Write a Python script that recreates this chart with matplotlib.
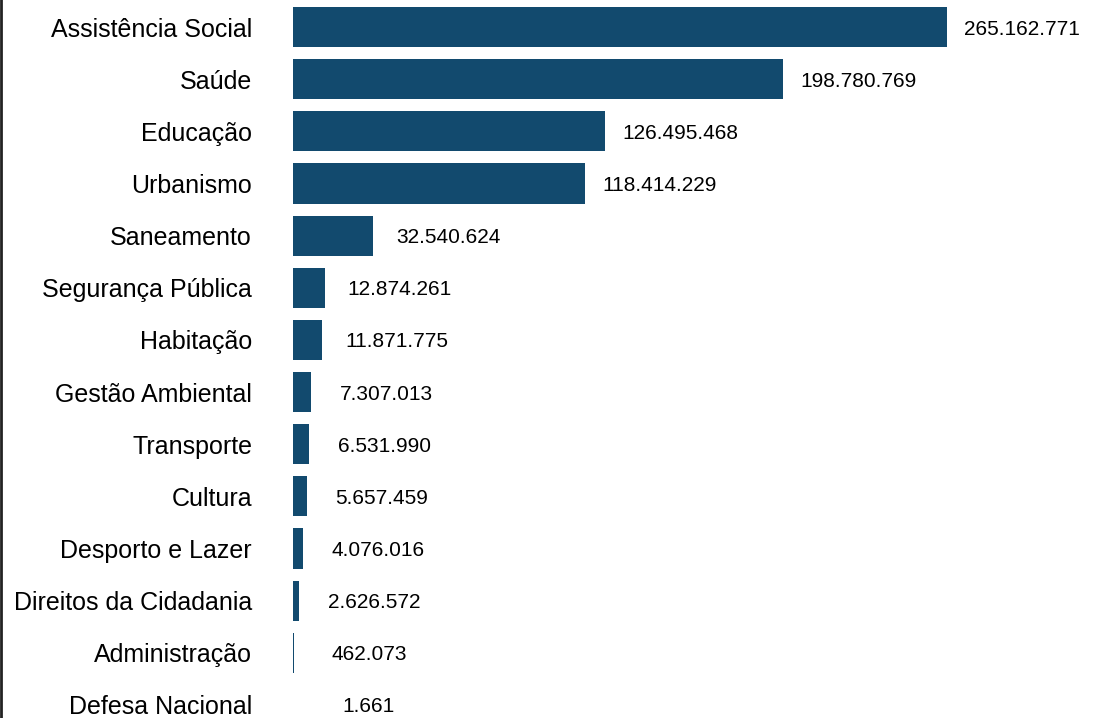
import matplotlib.pyplot as plt
from matplotlib.lines import Line2D

# Despesas por função
categorias = [
    "Assistência Social", "Saúde", "Educação", "Urbanismo", "Saneamento",
    "Segurança Pública", "Habitação", "Gestão Ambiental", "Transporte",
    "Cultura", "Desporto e Lazer", "Direitos da Cidadania", "Administração",
    "Defesa Nacional",
]
valores = [
    265162771, 198780769, 126495468, 118414229, 32540624,
    12874261, 11871775, 7307013, 6531990,
    5657459, 4076016, 2626572, 462073,
    1661,
]


def fmt_br(v):
    return f"{v:,}".replace(",", ".")


plt.rcParams["font.family"] = ["Liberation Sans", "DejaVu Sans"]

fig = plt.figure(figsize=(10.96, 7.18), dpi=100)
ax = fig.add_axes([293 / 1096, 0, 1 - 293 / 1096, 1])

pos = list(range(len(categorias)))
ax.barh(pos, valores, height=0.77, color="#124a6e")

for p, v in zip(pos, valores):
    ax.annotate(fmt_br(v), xy=(v, p), xytext=(54, 0), textcoords="offset points",
                ha="center", va="center_baseline", fontsize=15, color="black")

ax.set_yticks(pos)
ax.set_yticklabels(categorias, fontsize=18, color="black")
ax.tick_params(axis="y", length=0, pad=29.5)
ax.set_xticks([])
ax.set_xlim(0, 325.6e6)
ax.set_ylim(13.25, -0.52)
for s in ax.spines.values():
    s.set_visible(False)

# borda esquerda do recorte
fig.add_artist(Line2D([1.2 / 1096, 1.2 / 1096], [0, 1], transform=fig.transFigure,
                      color="#222222", linewidth=2.0))

fig.savefig("out.png", dpi=100)
